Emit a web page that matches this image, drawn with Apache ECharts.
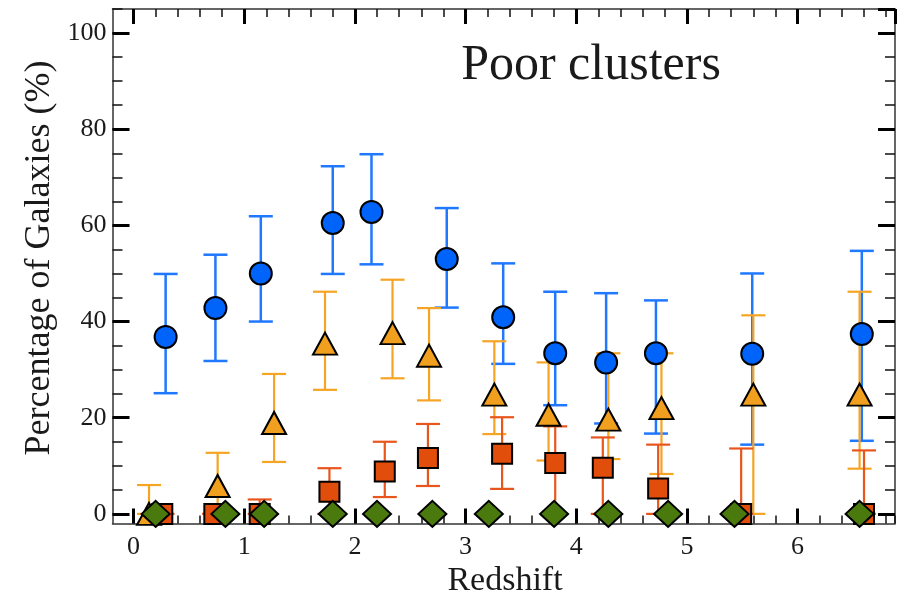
<!DOCTYPE html>
<html>
<head>
<meta charset="utf-8">
<script src="https://cdn.jsdelivr.net/npm/echarts@6/dist/echarts.min.js"></script>
<style>
  html, body { margin: 0; padding: 0; background: #fff; }
  #chart { width: 898px; height: 600px; }
</style>
</head>
<body>
<div id="chart"></div>
<script>
// Fraction of galaxies by morphological/spectral class versus redshift, poor clusters.
// Each class: redshift positions, percentage, lower and upper error limits.
const blueZ   = [0.29, 0.74, 1.15, 1.80, 2.15, 2.83, 3.34, 3.81, 4.27, 4.72, 5.59, 6.58];
const blueVal = [36.8, 42.8, 50.0, 60.5, 62.8, 53.0, 40.9, 33.4, 31.5, 33.4, 33.3, 37.4];
const blueLo  = [25.1, 31.8, 40.0, 49.9, 51.9, 42.9, 31.2, 22.6, 18.8, 16.7, 14.4, 15.2];
const blueHi  = [49.9, 53.9, 61.9, 72.3, 74.8, 63.6, 52.1, 46.2, 45.9, 44.4, 50.0, 54.7];

const orangeZ   = [0.14, 0.76, 1.27, 1.73, 2.34, 2.67, 3.26, 3.75, 4.29, 4.77, 5.60, 6.56];
const orangeVal = [0.0, 5.8, 18.9, 35.4, 37.6, 32.9, 24.8, 20.6, 19.6, 22.0, 24.8, 24.8];
const orangeLo  = [0.0, 0.0, 10.8, 25.8, 28.2, 23.6, 16.6, 11.1, 11.4, 8.3, 0.0, 9.4];
const orangeHi  = [6.0, 12.7, 29.1, 46.2, 48.7, 42.8, 35.9, 31.5, 33.4, 33.4, 41.3, 46.2];

const redZ   = [0.26, 0.73, 1.14, 1.77, 2.27, 2.66, 3.33, 3.81, 4.24, 4.74, 5.49, 6.60];
const redVal = [0.0, 0.0, 0.0, 4.6, 8.8, 11.6, 12.5, 10.6, 9.6, 5.3, 0.0, 0.0];
const redLo  = [0.0, 0.0, 0.0, 0.0, 3.5, 5.8, 5.2, 0.0, 0.0, 0.0, 0.0, 0.0];
const redHi  = [0.0, 0.0, 3.0, 9.5, 15.0, 18.7, 20.1, 18.2, 15.9, 14.4, 13.6, 13.2];

const greenZ   = [0.20, 0.83, 1.18, 1.80, 2.20, 2.70, 3.21, 3.80, 4.29, 4.83, 5.43, 6.56];
const greenVal = [0, 0, 0, 0, 0, 0, 0, 0, 0, 0, 0, 0];

const xTickLabels = [0, 1, 2, 3, 4, 5, 6];
const yTickLabels = [0, 20, 40, 60, 80, 100];

// Plot frame and axis ranges
const L = 112.5, R = 3, T = 9, B = 76.5;
const XMIN = -0.19, XMAX = 6.88, YMIN = -2, YMAX = 105;
const W = 898 - L - R, H = 600 - T - B;
const xZeroPx = L + (0 - XMIN) / (XMAX - XMIN) * W;
const yZeroPx = T + (YMAX - 0) / (YMAX - YMIN) * H;

const FONT = '"Liberation Serif", "Times New Roman", serif';
const INK = '#1a1a1a';

const zip = (a, b) => a.map((v, i) => [v, b[i]]);
const zip3 = (a, b, c) => a.map((v, i) => [v, b[i], c[i]]);

function errorBars(color, width) {
  return function (params, api) {
    const x = api.value(0), lo = api.value(1), hi = api.value(2);
    const pLo = api.coord([x, lo]);
    const pHi = api.coord([x, hi]);
    const half = 12;
    const style = { stroke: color, lineWidth: width, fill: null };
    return {
      type: 'group',
      children: [
        { type: 'line', shape: { x1: pLo[0], y1: pLo[1], x2: pHi[0], y2: pHi[1] }, style: style },
        { type: 'line', shape: { x1: pLo[0] - half, y1: pLo[1], x2: pLo[0] + half, y2: pLo[1] }, style: style },
        { type: 'line', shape: { x1: pHi[0] - half, y1: pHi[1], x2: pHi[0] + half, y2: pHi[1] }, style: style }
      ]
    };
  };
}

const isMultiple = (v, step) => Math.abs(v / step - Math.round(v / step)) < 1e-6;

const frameLine = { show: true, onZero: false, lineStyle: { color: '#333', width: 1.5 } };
const hidden = { show: false };

const chart = echarts.init(document.getElementById('chart'), null, { renderer: 'canvas' });

chart.setOption({
  animation: false,
  backgroundColor: '#fff',
  grid: [
    { left: L, right: R, top: T, bottom: B },              // frame + data
    { left: xZeroPx, right: R, top: T, bottom: B },        // x minor ticks
    { left: xZeroPx, right: R, top: T, bottom: B },        // x major ticks
    { left: L, right: R, top: T, bottom: 600 - yZeroPx },  // y minor ticks
    { left: L, right: R, top: T, bottom: 600 - yZeroPx }   // y major ticks
  ],
  xAxis: [
    { gridIndex: 0, type: 'value', position: 'bottom', min: XMIN, max: XMAX,
      axisLine: frameLine, axisTick: hidden, axisLabel: hidden, splitLine: hidden },
    { gridIndex: 0, type: 'value', position: 'top', min: XMIN, max: XMAX,
      axisLine: frameLine, axisTick: hidden, axisLabel: hidden, splitLine: hidden },
    { gridIndex: 1, type: 'value', position: 'bottom', min: 0, max: XMAX, interval: 0.2,
      axisLine: hidden, axisLabel: hidden, splitLine: hidden,
      axisTick: { show: true, inside: true, length: 8, lineStyle: { color: '#111', width: 1.5 } } },
    { gridIndex: 1, type: 'value', position: 'top', min: 0, max: XMAX, interval: 0.2,
      axisLine: hidden, axisLabel: hidden, splitLine: hidden,
      axisTick: { show: true, inside: true, length: 8, lineStyle: { color: '#111', width: 1.5 } } },
    { gridIndex: 2, type: 'value', position: 'bottom', min: 0, max: XMAX, interval: 1,
      axisLine: hidden, splitLine: hidden,
      axisTick: { show: true, inside: true, length: 15, lineStyle: { color: '#000', width: 3 } },
      axisLabel: { show: true, showMaxLabel: false, margin: 11, color: INK, fontFamily: FONT, fontSize: 26,
        formatter: v => (isMultiple(v, 1) && xTickLabels.includes(Math.round(v))) ? String(Math.round(v)) : '' } },
    { gridIndex: 2, type: 'value', position: 'top', min: 0, max: XMAX, interval: 1,
      axisLine: hidden, splitLine: hidden, axisLabel: hidden,
      axisTick: { show: true, inside: true, length: 15, lineStyle: { color: '#000', width: 3 } } },
    { gridIndex: 3, type: 'value', show: false, min: 0, max: 1 },
    { gridIndex: 4, type: 'value', show: false, min: 0, max: 1 }
  ],
  yAxis: [
    { gridIndex: 0, type: 'value', position: 'left', min: YMIN, max: YMAX,
      axisLine: frameLine, axisTick: hidden, axisLabel: hidden, splitLine: hidden },
    { gridIndex: 0, type: 'value', position: 'right', min: YMIN, max: YMAX,
      axisLine: frameLine, axisTick: hidden, axisLabel: hidden, splitLine: hidden },
    { gridIndex: 1, type: 'value', show: false, min: 0, max: 1 },
    { gridIndex: 2, type: 'value', show: false, min: 0, max: 1 },
    { gridIndex: 3, type: 'value', position: 'left', min: 0, max: YMAX, interval: 5,
      axisLine: hidden, axisLabel: hidden, splitLine: hidden,
      axisTick: { show: true, inside: true, length: 10, lineStyle: { color: '#111', width: 1.5 } } },
    { gridIndex: 3, type: 'value', position: 'right', min: 0, max: YMAX, interval: 5,
      axisLine: hidden, axisLabel: hidden, splitLine: hidden,
      axisTick: { show: true, inside: true, length: 10, lineStyle: { color: '#111', width: 1.5 } } },
    { gridIndex: 4, type: 'value', position: 'left', min: 0, max: YMAX, interval: 20,
      axisLine: hidden, splitLine: hidden,
      axisTick: { show: true, inside: true, length: 17, lineStyle: { color: '#000', width: 3 } },
      axisLabel: { show: true, showMaxLabel: false, margin: 6, color: INK, fontFamily: FONT, fontSize: 26,
        formatter: v => (isMultiple(v, 20) && yTickLabels.includes(Math.round(v))) ? String(Math.round(v)) : '' } },
    { gridIndex: 4, type: 'value', position: 'right', min: 0, max: YMAX, interval: 20,
      axisLine: hidden, splitLine: hidden, axisLabel: hidden,
      axisTick: { show: true, inside: true, length: 17, lineStyle: { color: '#000', width: 3 } } }
  ],
  series: [
    { type: 'custom', name: 'blue-err', xAxisIndex: 0, yAxisIndex: 0, z: 2, silent: true,
      renderItem: errorBars('#1f78ff', 2.5), encode: { x: 0, y: [1, 2] },
      data: zip3(blueZ, blueLo, blueHi) },
    { type: 'custom', name: 'orange-err', xAxisIndex: 0, yAxisIndex: 0, z: 3, silent: true,
      renderItem: errorBars('#f5a424', 2.2), encode: { x: 0, y: [1, 2] },
      data: zip3(orangeZ, orangeLo, orangeHi) },
    { type: 'custom', name: 'red-err', xAxisIndex: 0, yAxisIndex: 0, z: 4, silent: true,
      renderItem: errorBars('#e8561e', 2.2), encode: { x: 0, y: [1, 2] },
      data: zip3(redZ, redLo, redHi) },
    { type: 'scatter', name: 'triangles', xAxisIndex: 0, yAxisIndex: 0, z: 5, silent: true,
      symbol: 'triangle', symbolSize: [24, 22],
      itemStyle: { color: '#f0a01e', borderColor: '#000', borderWidth: 2, opacity: 1 },
      data: zip(orangeZ, orangeVal) },
    { type: 'scatter', name: 'circles', xAxisIndex: 0, yAxisIndex: 0, z: 6, silent: true,
      symbol: 'circle', symbolSize: 22,
      itemStyle: { color: '#0064fa', borderColor: '#000', borderWidth: 2, opacity: 1 },
      data: zip(blueZ, blueVal) },
    { type: 'scatter', name: 'squares', xAxisIndex: 0, yAxisIndex: 0, z: 7, silent: true,
      symbol: 'rect', symbolSize: 20,
      itemStyle: { color: '#e14d0a', borderColor: '#000', borderWidth: 2, opacity: 1 },
      data: zip(redZ, redVal) },
    { type: 'scatter', name: 'diamonds', xAxisIndex: 0, yAxisIndex: 0, z: 8, silent: true,
      symbol: 'diamond', symbolSize: [28, 26],
      itemStyle: { color: '#4a7a0e', borderColor: '#000', borderWidth: 2, opacity: 1 },
      data: zip(greenZ, greenVal) }
  ],
  graphic: [
    { type: 'text', x: 591, y: 66, z: 100, silent: true,
      style: { text: 'Poor clusters', fontFamily: FONT, fontSize: 50, fill: INK, align: 'center', verticalAlign: 'middle' } },
    { type: 'text', x: 505, y: 581, z: 100, silent: true,
      style: { text: 'Redshift', fontFamily: FONT, fontSize: 34, fill: INK, align: 'center', verticalAlign: 'middle' } },
    { type: 'text', x: 40, y: 258, rotation: Math.PI / 2, z: 100, silent: true,
      style: { text: 'Percentage of Galaxies (%)', fontFamily: FONT, fontSize: 36, fill: INK, align: 'center', verticalAlign: 'middle' } }
  ]
});
</script>
</body>
</html>
